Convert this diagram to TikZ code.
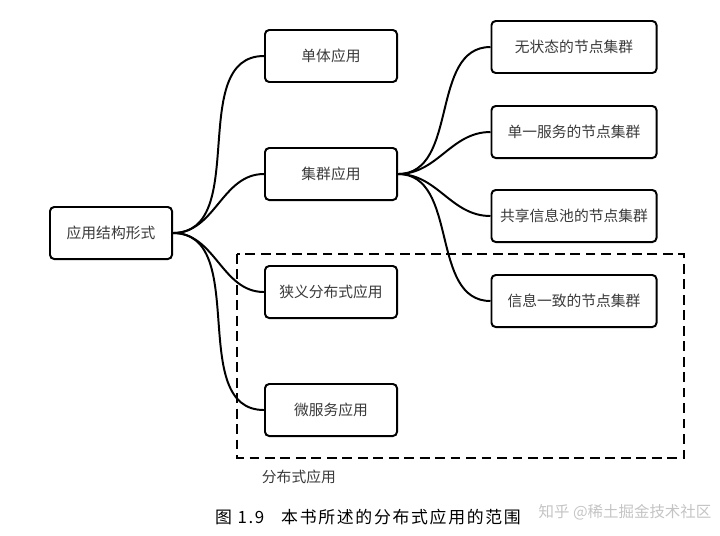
\documentclass[tikz,border=0pt]{standalone}
\usepackage{fontspec}
\setmainfont{Noto Sans CJK SC}
\newfontfamily\capfont[LetterSpace=10]{Noto Sans CJK SC}
\usetikzlibrary{positioning}
\definecolor{txGrey}{HTML}{3A3A3A}
\definecolor{wmGrey}{HTML}{C4C4C4}

\begin{document}
\begin{tikzpicture}[
  x=0.025cm, y=-0.025cm,
  font=\fontsize{10.5}{12}\selectfont,
  box/.style={draw=black, fill=white, rounded corners=3pt, minimum width=3.3cm,
              minimum height=1.3cm, align=center, line width=1.4pt, text=txGrey},
  wbox/.style={box, minimum width=4.125cm},
  link/.style={black, line width=1.4pt}]

\useasboundingbox (0,0) rectangle (720,535);

% scope of the distributed applications
\draw[line width=1.7pt, dash pattern=on 7pt off 4pt] (237,254) rectangle (684,458);
\node[anchor=west, text=txGrey] (scope) at (257,477) {分布式应用};

\node[box, minimum width=3.05cm] (root) at (111,233) {应用结构形式};
\node[box] (single) at (331,56) {单体应用};
\node[box] (cluster) at (331,174) {集群应用};
\node[box] (narrow) at (331,292) {狭义分布式应用};
\node[box] (micro) at (331,410) {微服务应用};

\node[wbox] (stateless) at (574,47) {无状态的节点集群};
\node[wbox] (service) at (574,132) {单一服务的节点集群};
\node[wbox] (shared) at (574,216) {共享信息池的节点集群};
\node[wbox] (consist) at (574,301) {信息一致的节点集群};

\foreach \n in {single,cluster,narrow,micro}
  \draw[link] (root.east) to[out=0,in=180] (\n.west);
\foreach \n in {stateless,service,shared,consist}
  \draw[link] (cluster.east) to[out=0,in=180] (\n.west);

\node[font=\capfont\fontsize{12}{14}\selectfont] (caption) at (368,517) {图 1.9\quad 本书所述的分布式应用的范围};
\node[text=wmGrey, font=\fontsize{11}{13}\selectfont] (mark) at (625,512) {知乎 @稀土掘金技术社区};
\end{tikzpicture}
\end{document}
